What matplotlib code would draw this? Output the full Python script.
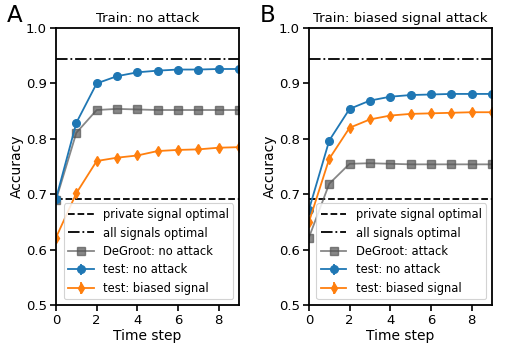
import matplotlib
matplotlib.use("Agg")
import matplotlib.pyplot as plt
import numpy as np

steps = np.arange(10)

# Panel A: Train: no attack
a_test_no_attack = [0.692, 0.829, 0.900, 0.913, 0.920, 0.923, 0.925, 0.925, 0.926, 0.926]
a_degroot = [0.690, 0.811, 0.852, 0.854, 0.853, 0.852, 0.852, 0.852, 0.852, 0.852]
a_test_biased = [0.622, 0.702, 0.760, 0.766, 0.770, 0.778, 0.780, 0.781, 0.784, 0.785]
a_biased_err = [0.004, 0.006, 0.005, 0.005, 0.005, 0.005, 0.005, 0.005, 0.005, 0.005]

# Panel B: Train: biased signal attack
b_test_no_attack = [0.672, 0.797, 0.854, 0.869, 0.876, 0.879, 0.880, 0.881, 0.881, 0.881]
b_degroot = [0.622, 0.719, 0.755, 0.756, 0.755, 0.754, 0.754, 0.754, 0.754, 0.754]
b_test_biased = [0.650, 0.764, 0.820, 0.835, 0.842, 0.845, 0.846, 0.847, 0.848, 0.848]
b_biased_err = [0.004, 0.006, 0.005, 0.005, 0.005, 0.005, 0.005, 0.005, 0.005, 0.005]

private_opt = 0.692
all_opt = 0.944

titles = ["Train: no attack", "Train: biased signal attack"]
degroot_labels = ["DeGroot: no attack", "DeGroot: attack"]
letters = ["A", "B"]

plt.rcParams['font.family'] = ['DejaVu Sans']
fig = plt.figure(figsize=(5.14, 3.54), dpi=100)
positions = [[0.109, 0.138, 0.356, 0.783], [0.601, 0.138, 0.356, 0.783]]

panels = [(a_test_no_attack, a_degroot, a_test_biased, a_biased_err),
          (b_test_no_attack, b_degroot, b_test_biased, b_biased_err)]

for i, (tna, dg, tb, tberr) in enumerate(panels):
    ax = fig.add_axes(positions[i])
    ax.axhline(private_opt, color='black', ls='--', lw=1.3, label='private signal optimal')
    ax.axhline(all_opt, color='black', ls='-.', lw=1.3, label='all signals optimal')
    ax.plot(steps, dg, color='#555555', marker='s', ms=5.5, lw=1.3, alpha=0.7,
            label=degroot_labels[i])
    ax.errorbar(steps, tna, yerr=0.002, color='#1f77b4', marker='o', ms=5.5, lw=1.3,
                label='test: no attack')
    ax.errorbar(steps, tb, yerr=tberr, color='#ff7f0e', marker='d', ms=5.5, lw=1.3,
                label='test: biased signal')
    ax.set_xlim(0, 9)
    ax.set_ylim(0.5, 1.0)
    ax.set_xticks([0, 2, 4, 6, 8])
    ax.set_yticks([0.5, 0.6, 0.7, 0.8, 0.9, 1.0])
    ax.tick_params(labelsize=9.5, length=4, width=1.2, direction='out', pad=2.5)
    for s in ax.spines.values():
        s.set_linewidth(1.3)
    ax.set_xlabel('Time step', fontsize=10, labelpad=1.5)
    ax.set_ylabel('Accuracy', fontsize=10, labelpad=1.5)
    ax.set_title(titles[i], fontsize=9.5, pad=4)
    leg = ax.legend(loc='lower right', fontsize=8.3, framealpha=0.85,
                    edgecolor='#cccccc', handlelength=2.2, borderpad=0.4,
                    labelspacing=0.47, borderaxespad=0.5)
    leg.get_frame().set_linewidth(0.8)
    fig.text(positions[i][0] - 0.095, 0.99, letters[i], fontsize=16.5, ha='left', va='top')

fig.savefig('out.png', dpi=100)
